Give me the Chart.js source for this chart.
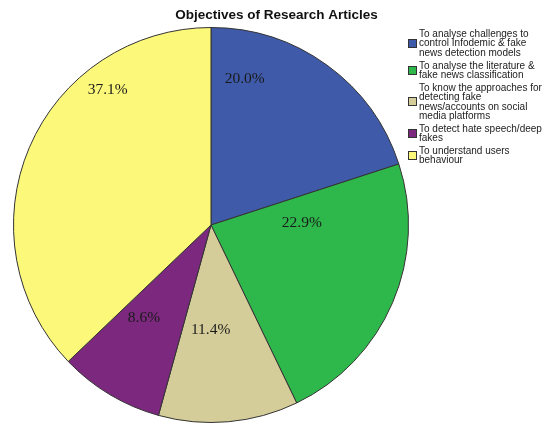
<!DOCTYPE html>
<html>
<head>
<meta charset="utf-8">
<script src="https://cdn.jsdelivr.net/npm/chart.js@4/dist/chart.umd.min.js"></script>
<style>
  body { margin: 0; background: #fff; }
  #wrap { position: relative; width: 547px; height: 426px; overflow: hidden; }
  #legend { position: absolute; left: 408px; top: 29px; width: 150px; white-space: nowrap; font-family: "Liberation Sans", Arial, sans-serif; font-size: 10px; line-height: 9.4px; color: #222; }
  .item { display: flex; align-items: center; margin-bottom: 3.4px; }
  .box { width: 7px; height: 7px; border: 1px solid #333; margin-right: 2px; flex: none; }
</style>
</head>
<body>
<div id="wrap">
  <canvas id="myChart" width="547" height="426"></canvas>
  <div id="legend"></div>
</div>
<script>
var labels = [
    ["To analyse challenges to", "control Infodemic & fake", "news detection models"],
    ["To analyse the literature &", "fake news classification"],
    ["To know the approaches for", "detecting fake", "news/accounts on social", "media platforms"],
    ["To detect hate speech/deep", "fakes"],
    ["To understand users", "behaviour"]
];
var counts = [7, 8, 4, 3, 13];
var percentLabels = ["20.0%", "22.9%", "11.4%", "8.6%", "37.1%"];
var colors = ["#3f5aa9", "#2eb84b", "#d5cd99", "#7b287e", "#fcf87a"];
var chartTitle = 'Objectives of Research Articles';

// where SPSS put each percentage: fraction along the slice angle, fraction of radius
var labelSpots = [[0.18, 0.76], [0.20, 0.46], [0.63, 0.53], [0.66, 0.58], [0.72, 0.86]];

var pctPlugin = {
    id: 'pctLabels',
    afterDatasetsDraw: function (chart) {
        var ctx = chart.ctx;
        var meta = chart.getDatasetMeta(0);
        ctx.save();
        ctx.font = '15.5px "Liberation Serif", "Times New Roman", serif';
        ctx.fillStyle = '#1a1a1a';
        ctx.textAlign = 'center';
        ctx.textBaseline = 'middle';
        meta.data.forEach(function (arc, i) {
            var p = arc.getProps(['x', 'y', 'startAngle', 'endAngle', 'outerRadius'], true);
            var a = p.startAngle + (p.endAngle - p.startAngle) * labelSpots[i][0];
            var r = p.outerRadius * labelSpots[i][1];
            ctx.fillText(percentLabels[i], p.x + Math.cos(a) * r, p.y + Math.sin(a) * r);
        });
        // title sits centred over the whole picture, not over the pie
        ctx.font = 'bold 13.5px "Liberation Sans", Arial, sans-serif';
        ctx.fillStyle = '#111';
        ctx.fillText(chartTitle, chart.width / 2 + 3, 15);
        ctx.restore();
    }
};

var ctx = document.getElementById("myChart");
var chart = new Chart(ctx, {
    type: 'pie',
    data: {
        labels: labels,
        datasets: [{
            data: counts,
            backgroundColor: colors,
            borderColor: '#333',
            borderWidth: 1
        }]
    },
    options: {
        responsive: false,
        animation: false,
        layout: { padding: { left: 13, right: 138, top: 27, bottom: 3 } },
        plugins: {
            legend: { display: false },
            tooltip: { enabled: false },
            title: { display: false }
        }
    },
    plugins: [pctPlugin]
});

var legend = document.getElementById('legend');
labels.forEach(function (lines, i) {
    var item = document.createElement('div');
    item.className = 'item';
    var box = document.createElement('div');
    box.className = 'box';
    box.style.background = colors[i];
    var txt = document.createElement('div');
    txt.innerHTML = lines.join('<br>');
    item.appendChild(box);
    item.appendChild(txt);
    legend.appendChild(item);
});
</script>
</body>
</html>
